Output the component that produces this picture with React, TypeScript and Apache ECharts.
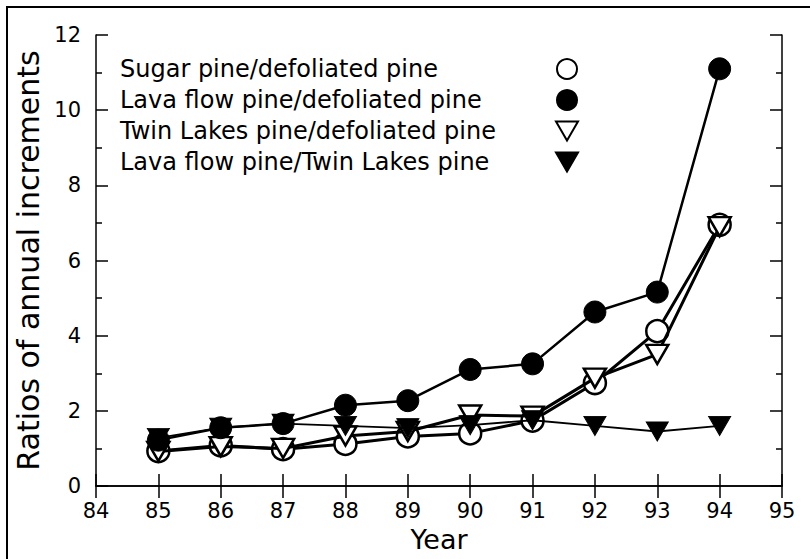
import React, { useEffect, useRef } from "react";
import * as echarts from "echarts";

const years = [85, 86, 87, 88, 89, 90, 91, 92, 93, 94];
const sugarDef = [0.93, 1.08, 0.98, 1.12, 1.32, 1.4, 1.74, 2.74, 4.12, 6.95];
const lavaDef = [1.22, 1.55, 1.66, 2.15, 2.27, 3.1, 3.25, 4.63, 5.16, 11.1];
const twinDef = [0.92, 1.05, 1.0, 1.33, 1.45, 1.89, 1.86, 2.87, 3.5, 6.9];
const lavaTwin = [1.28, 1.55, 1.66, 1.6, 1.54, 1.62, 1.75, 1.6, 1.45, 1.6];
const seriesNames = [
  "Sugar pine/defoliated pine",
  "Lava flow pine/defoliated pine",
  "Twin Lakes pine/defoliated pine",
  "Lava flow pine/Twin Lakes pine",
];

const FONT = "DejaVu Sans";
const TRI = "path://M0,0 L22,0 L11,19 Z";

const pairs = (ys: number[]) => years.map((y, i) => [y, ys[i]]);

export default function App() {
  const ref = useRef<HTMLDivElement>(null);
  useEffect(() => {
    if (!ref.current) return;
    const chart = echarts.init(ref.current, null, { renderer: "svg" });
    const axisCommon = {
      axisLine: { show: true, lineStyle: { color: "#000", width: 1.5 } },
      splitLine: { show: false },
    };
    const xBase = {
      type: "value",
      min: 84,
      max: 95,
      interval: 1,
      ...axisCommon,
      axisTick: { show: true, inside: true, length: 12, lineStyle: { color: "#000", width: 1.5 } },
    };
    const yBase = {
      type: "value",
      min: 0,
      max: 12,
      interval: 2,
      ...axisCommon,
      axisTick: { show: true, inside: true, length: 12, lineStyle: { color: "#000", width: 1.5 } },
      minorTick: { show: true, splitNumber: 2, length: 6, lineStyle: { color: "#000", width: 1.5 } },
    };
    const option: any = {
      animation: false,
      backgroundColor: "#fff",
      grid: { left: 96, right: 28, top: 35, bottom: 73, containLabel: false },
      xAxis: [
        {
          ...xBase,
          position: "bottom",
          name: "Year",
          nameLocation: "middle",
          nameGap: 36,
          nameTextStyle: { fontFamily: FONT, fontSize: 27, color: "#000" },
          axisLabel: { fontFamily: FONT, fontSize: 21, color: "#000", margin: 14 },
        },
        { ...xBase, position: "top", axisLabel: { show: false } },
      ],
      yAxis: [
        {
          ...yBase,
          position: "left",
          name: "Ratios of annual increments",
          nameLocation: "middle",
          nameGap: 53,
          nameTextStyle: { fontFamily: FONT, fontSize: 30, color: "#000" },
          axisLabel: { fontFamily: FONT, fontSize: 21, color: "#000", margin: 15 },
        },
        { ...yBase, position: "right", axisLabel: { show: false } },
      ],
      legend: {
        orient: "vertical",
        left: 115,
        top: 52,
        align: "right",
        itemWidth: 22,
        itemHeight: 20,
        itemGap: 7,
        formatter: "{a|{name}}",
        textStyle: {
          color: "#000",
          fontFamily: FONT,
          fontSize: 24,
          rich: {
            a: { width: 431, align: "left", fontFamily: FONT, fontSize: 24, color: "#000", lineHeight: 26 },
          },
        },
        data: [
          { name: seriesNames[0], icon: "circle" },
          { name: seriesNames[1], icon: "circle" },
          { name: seriesNames[2], icon: TRI },
          { name: seriesNames[3], icon: TRI },
        ],
      },
      graphic: [
        {
          type: "polyline",
          shape: { points: [[7, 559], [7, 7], [810, 7]] },
          style: { stroke: "#000", lineWidth: 2, fill: null },
          silent: true,
        },
      ],
      series: [
        {
          name: seriesNames[0],
          type: "line",
          data: pairs(sugarDef),
          symbol: "circle",
          symbolSize: 22,
          lineStyle: { color: "#000", width: 3 },
          itemStyle: { color: "#fff", borderColor: "#000", borderWidth: 2.5 },
          z: 2,
        },
        {
          name: seriesNames[2],
          type: "line",
          data: pairs(twinDef),
          symbol: TRI,
          symbolSize: [22, 19],
          lineStyle: { color: "#000", width: 3 },
          itemStyle: { color: "#fff", borderColor: "#000", borderWidth: 2.5 },
          z: 3,
        },
        {
          name: seriesNames[1],
          type: "line",
          data: pairs(lavaDef),
          symbol: "circle",
          symbolSize: 22,
          lineStyle: { color: "#000", width: 2.5 },
          itemStyle: { color: "#000", borderColor: "#000", borderWidth: 1 },
          z: 4,
        },
        {
          name: seriesNames[3],
          type: "line",
          data: pairs(lavaTwin),
          symbol: TRI,
          symbolSize: [22, 19],
          lineStyle: { color: "#000", width: 1.8 },
          itemStyle: { color: "#000", borderColor: "#000", borderWidth: 1 },
          z: 5,
        },
      ],
    };
    chart.setOption(option);
    return () => chart.dispose();
  }, []);
  return (
    <div
      ref={ref}
      style={{ position: "fixed", left: 0, top: 0, width: 810, height: 559, background: "#fff" }}
    />
  );
}
